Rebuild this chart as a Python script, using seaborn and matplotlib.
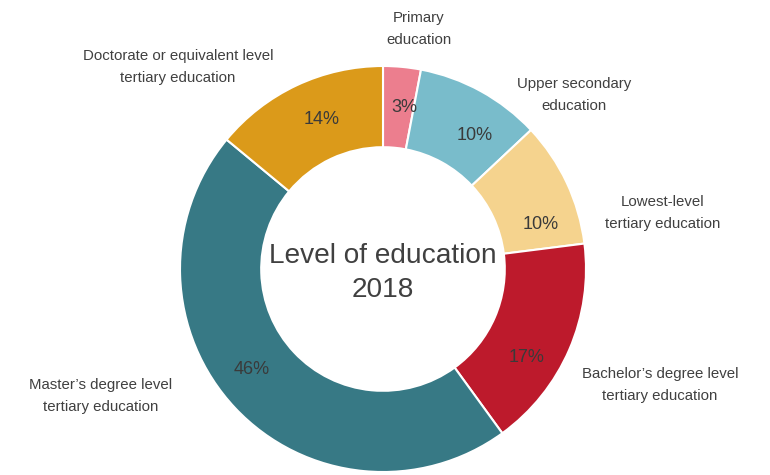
import matplotlib
matplotlib.use("Agg")
import matplotlib.pyplot as plt
import seaborn as sns
import numpy as np

categories = [
    "Primary\neducation",
    "Upper secondary\neducation",
    "Lowest-level\ntertiary education",
    "Bachelor\u2019s degree level\ntertiary education",
    "Master\u2019s degree level\ntertiary education",
    "Doctorate or equivalent level\ntertiary education",
]
values = [3, 10, 10, 17, 46, 14]
colors = ["#EC7E8E", "#79BCCB", "#F5D38E", "#BD1A2C", "#377985", "#DB9A1A"]
center_title = "Level of education\n2018"

sns.set_theme(style="white")
plt.rcParams["font.family"] = ["Liberation Sans", "DejaVu Sans"]

fig = plt.figure(figsize=(7.7, 4.75), dpi=100)
cx, cy, R = 383, 269, 203
W, H = 770, 475
ax = fig.add_axes([(cx - R) / W, (H - cy - R) / H, 2 * R / W, 2 * R / H])

wedges, texts, autotexts = ax.pie(
    values, colors=colors, startangle=90, counterclock=False,
    radius=1.0, autopct="%d%%", pctdistance=0.8,
    wedgeprops=dict(width=0.4, edgecolor="white", linewidth=1.5),
    textprops=dict(color="#3a3a3a", fontsize=13),
)
# percentage label layout positions (axes data units)
pct_pos = [
    (0.103, 0.798), (0.453, 0.660), (0.778, 0.217),
    (0.709, -0.438), (-0.645, -0.493), (-0.300, 0.734),
]
for t, p in zip(autotexts, pct_pos):
    t.set_position(p)

# outer labels (layout positions in axes data units)
label_pos = [
    (0.177, 1.182), (0.941, 0.857), (1.379, 0.276),
    (1.365, -0.571), (-1.389, -0.626), (-1.010, 0.995),
]
for lab, (x, y) in zip(categories, label_pos):
    ax.text(x, y, lab, ha="center", va="center", fontsize=10.8,
            color="#404040", linespacing=1.8)

ax.text(0, -0.02, center_title, ha="center", va="center", fontsize=20.2,
        color="#404040", linespacing=1.38)

ax.set_xlim(-1, 1)
ax.set_ylim(-1, 1)
ax.set_aspect("equal")
ax.axis("off")
fig.savefig("out.png", dpi=100)
